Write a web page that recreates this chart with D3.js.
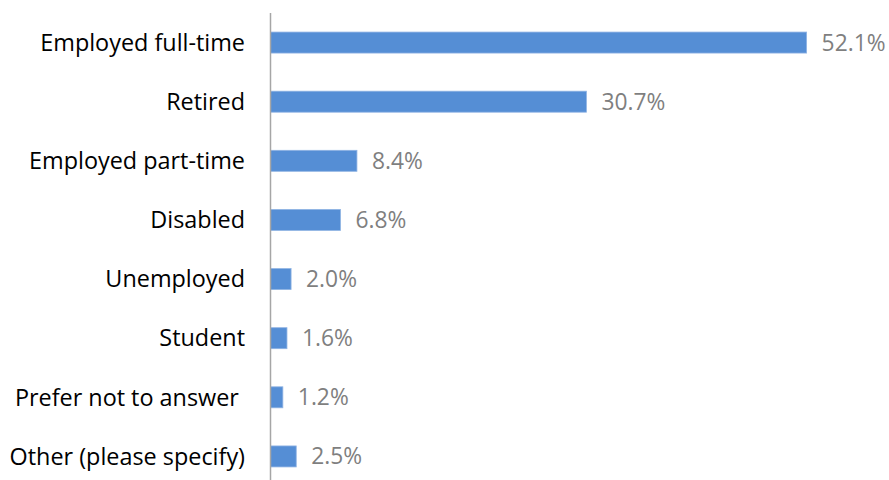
<!DOCTYPE html>
<html><head><meta charset="utf-8">
<script src="https://cdn.jsdelivr.net/npm/d3@7"></script>
<style>body{margin:0;background:#fff}svg{display:block}</style>
</head><body>
<script>
const categories = ["Employed full-time","Retired","Employed part-time","Disabled","Unemployed","Student","Prefer not to answer ","Other (please specify)"];
const values = [52.1,30.7,8.4,6.8,2.0,1.6,1.2,2.5];
const valueLabels = ["52.1%","30.7%","8.4%","6.8%","2.0%","1.6%","1.2%","2.5%"];

const W = 889, H = 480;
const svg = d3.select("body").append("svg").attr("width", W).attr("height", H);
const x = d3.scaleLinear().domain([0, 60]).range([270.5, 270.5 + 617.4]);
const y = d3.scaleBand().domain(categories).range([13, 486]).paddingInner(0.645).paddingOuter(0.3225);

svg.selectAll("rect.bar").data(values).enter().append("rect")
  .attr("x", x(0)).attr("y", (d,i) => y(categories[i]))
  .attr("width", d => x(d) - x(0)).attr("height", y.bandwidth())
  .attr("fill", "#558ed5").attr("stroke", "#8fb3e3").attr("stroke-width", 0.8);

svg.append("line").attr("x1", 270.5).attr("x2", 270.5).attr("y1", 13).attr("y2", 486)
  .attr("stroke", "#a6a6a6").attr("stroke-width", 1.5);

const font = "'Open Sans', 'Noto Sans', sans-serif";
svg.selectAll("text.cat").data(categories).enter().append("text")
  .attr("x", 245).attr("y", d => y(d) + y.bandwidth()/2)
  .attr("dy", "0.35em").attr("text-anchor", "end")
  .attr("font-family", font).attr("font-size", 23.4).attr("fill", "#000")
  .attr("xml:space", "preserve").style("white-space", "pre")
  .text(d => d);

svg.selectAll("text.val").data(values).enter().append("text")
  .attr("x", d => x(d) + 15).attr("y", (d,i) => y(categories[i]) + y.bandwidth()/2)
  .attr("dy", "0.35em").attr("font-family", font).attr("font-size", 22.8).attr("fill", "#7f7f7f")
  .text((d,i) => valueLabels[i]);
</script>
</body></html>
